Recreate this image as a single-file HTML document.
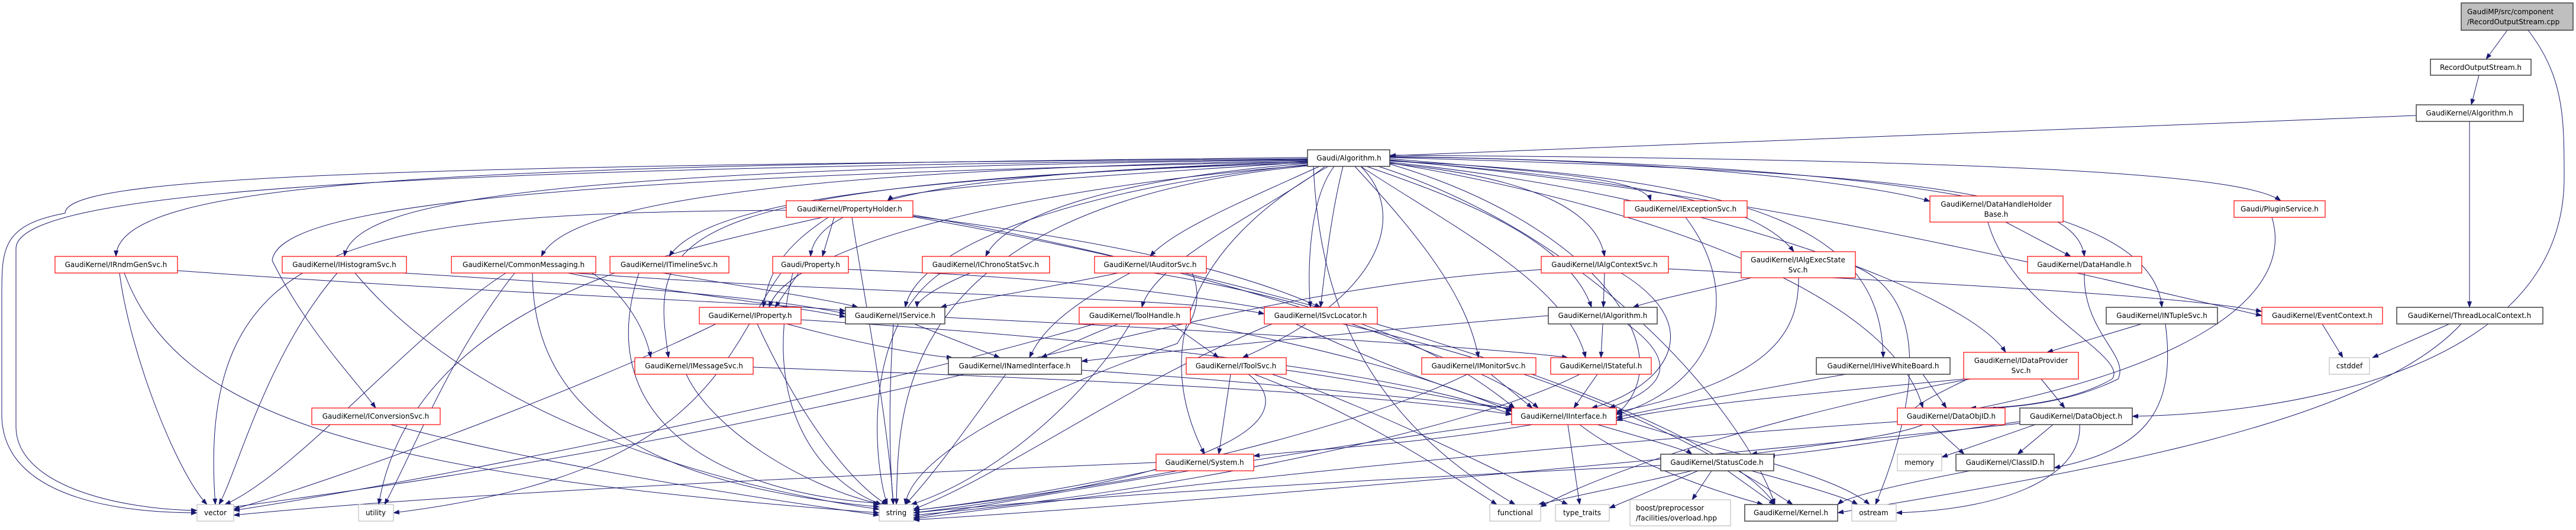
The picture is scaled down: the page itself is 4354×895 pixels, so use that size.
<!DOCTYPE html>
<html><head><meta charset="utf-8"><style>
html,body{margin:0;padding:0;background:#fff}
svg{display:block}
text{font-family:"DejaVu Sans","Liberation Sans",sans-serif;font-size:12px;fill:#000}
.r{fill:#fff;stroke:#ff0000;stroke-width:1.2}
.k{fill:#fff;stroke:#404040;stroke-width:1.5}
.g{fill:#fff;stroke:#bfbfbf;stroke-width:1.2}
.e path{fill:none;stroke:#191970;stroke-width:1}
</style></head><body>
<svg width="4354" height="895" viewBox="0 0 4354 895" xmlns="http://www.w3.org/2000/svg">
<defs><marker id="a" markerWidth="11" markerHeight="8" refX="10" refY="4" orient="auto" markerUnits="userSpaceOnUse"><path d="M0,0 L11,4 L0,8 z" fill="#191970"/></marker></defs>
<g class="e" marker-end="url(#a)">
<path d="M4238 51 L4202 100"/>
<path d="M4190 127 L4177 177"/>
<path d="M4273 51 C4334 130 4334 200 4334 300 C4334 650 3800 700 3604 703"/>
<path d="M4084 195 L2349 263"/>
<path d="M4174 205 L4174 519"/>
<!-- Gaudi/Algorithm left -->
<path d="M2210 266 C800 280 200 300 196 433"/>
<path d="M2210 268 C600 280 110 300 110 360 C3 380 3 420 3 500 L3 700 C3 840 200 866 333 866"/>
<path d="M2210 269 C700 285 27 320 27 420 L27 720 C27 820 200 860 333 862"/>
<path d="M2210 270 C900 285 600 340 582 433"/>
<path d="M2210 271 C1200 290 950 360 915 433"/>
<path d="M2210 272 C1600 300 1200 330 1131 433"/>
<path d="M2210 273 C1700 290 1380 320 1370 433"/>
<path d="M2210 274 C1800 300 1520 320 1500 339"/>
<path d="M2210 276 C1900 300 1700 360 1666 433"/>
<path d="M2230 281 C2100 340 1980 390 1944 433"/>
<path d="M2270 281 C2250 360 2240 450 2232 519"/>
<path d="M2255 281 C2210 340 2210 470 2215 519"/>
<path d="M2210 278 C1800 320 1550 420 1530 519"/>
<path d="M2210 279 C1700 320 1330 420 1300 519"/>
<path d="M2210 275 C1100 310 1100 400 1130 604"/>
<path d="M2210 273 C800 300 470 360 460 440 C520 560 600 640 635 689"/>
<path d="M2240 281 C2150 350 1950 440 1930 519"/>
<path d="M2300 281 C2380 360 2340 500 2100 604"/>
<path d="M2245 281 C2000 420 1950 600 2036 767"/>
<path d="M2210 280 C1500 350 1520 700 1515 852"/>
<path d="M2220 281 C2230 500 2300 700 2561 852"/>
<path d="M2290 281 C2400 400 2480 500 2499 604"/>
<path d="M2300 281 C2450 380 2650 480 2680 604"/>
<path d="M2310 281 C2450 330 2650 400 2690 519"/>
<path d="M2349 276 C2600 300 2700 360 2712 433"/>
<path d="M2349 268 C2600 290 2780 300 2790 339"/>
<path d="M2349 271 C2700 300 2960 330 3032 425"/>
<path d="M2349 265 C2900 270 3200 320 3262 340"/>
<path d="M2349 266 C3200 290 3510 320 3523 433"/>
<path d="M2349 272 C3000 300 3180 400 3183 604"/>
<path d="M2349 264 C3300 280 3640 360 3654 519"/>
<path d="M2349 270 C3000 330 3500 460 3823 533"/>
<path d="M2349 262 C3500 270 3800 300 3855 339"/>
<path d="M2349 274 C2900 330 3330 500 3390 595"/>
<path d="M2349 275 C2800 350 3200 500 3250 689"/>
<path d="M2330 281 C2700 400 2950 700 3000 852"/>
<path d="M2349 277 C2700 380 2850 600 2732 700"/>
<!-- PropertyHolder -->
<path d="M1410 367 L1390 433"/>
<path d="M1400 367 C1320 420 1300 460 1290 519"/>
<path d="M1390 367 C1160 420 700 500 640 852"/>
<path d="M1329 355 C600 360 330 400 364 852"/>
<path d="M1543 365 C1900 410 2100 460 2232 519"/>
<path d="M1543 363 C2000 440 2500 600 2600 689"/>
<path d="M1543 366 C2200 480 2900 700 3000 852"/>
<path d="M1440 367 C1460 500 1500 700 1510 852"/>
<!-- level 5 -->
<path d="M300 457 C900 500 1300 510 1429 525"/>
<path d="M202 461 C220 600 300 800 350 852"/>
<path d="M210 461 C300 700 600 800 1486 866"/>
<path d="M570 461 C450 600 400 800 370 852"/>
<path d="M600 461 C800 700 1200 820 1486 860"/>
<path d="M680 461 C1000 480 1300 500 1429 530"/>
<path d="M855 461 C700 560 500 800 380 852"/>
<path d="M900 461 C900 700 1100 820 1486 856"/>
<path d="M960 461 C1100 490 1300 510 1429 535"/>
<path d="M1000 461 C1050 490 1090 550 1100 604"/>
<path d="M970 461 C1500 500 2000 500 2137 530"/>
<path d="M870 461 C760 600 700 760 650 852"/>
<path d="M1120 461 C1300 490 1420 510 1450 519"/>
<path d="M1080 461 C1000 700 1200 830 1486 850"/>
<path d="M1350 461 L1310 519"/>
<path d="M1320 461 C1220 600 1200 800 665 866"/>
<path d="M1340 461 C1280 700 1400 820 1490 852"/>
<path d="M1434 455 C1800 470 2500 500 3030 852"/>
<path d="M1640 461 C1570 490 1550 510 1550 519"/>
<path d="M1590 461 C1450 560 1480 800 1500 852"/>
<path d="M1890 461 C1750 490 1620 510 1590 519"/>
<path d="M1910 461 C1800 520 1760 560 1740 604"/>
<path d="M2015 461 C2040 520 2000 560 1990 580 C1700 680 1540 780 1530 852"/>
<path d="M1950 461 C2300 520 2450 600 2560 689"/>
<path d="M2712 461 L2710 519"/>
<path d="M2740 461 C2900 560 2800 660 2690 689"/>
<path d="M2820 454 C3300 480 3700 500 3823 526"/>
<path d="M2610 455 C2000 490 1600 700 380 858"/>
<path d="M2960 469 C2880 490 2800 505 2760 519"/>
<path d="M3040 469 C3040 560 3000 640 2732 696"/>
<path d="M3136 450 C3300 520 3200 780 3170 852"/>
<path d="M2849 367 C2950 500 2900 650 2732 700"/>
<path d="M3390 375 L3500 433"/>
<path d="M3360 375 C3400 520 3600 600 3570 640 C3500 680 3400 689 3330 689"/>
<path d="M3523 461 C3520 560 3600 600 3580 640 C3500 680 3400 690 3330 690"/>
<path d="M3840 367 C3880 500 3700 620 3330 692"/>
<!-- level 6 -->
<path d="M1210 547 C1000 650 600 800 395 860"/>
<path d="M1280 547 C1350 700 1440 820 1500 852"/>
<path d="M1330 547 C1450 580 1560 600 1610 604"/>
<path d="M1354 540 C2000 580 2400 640 2555 700"/>
<path d="M1510 547 C1500 700 1505 800 1510 852"/>
<path d="M1545 547 L1690 604"/>
<path d="M1597 536 C2100 560 2550 590 2650 604"/>
<path d="M1890 547 C1830 570 1790 590 1760 604"/>
<path d="M1980 547 L2060 604"/>
<path d="M1910 547 C1850 650 1700 800 1540 852"/>
<path d="M2012 545 C2300 600 2450 650 2555 695"/>
<path d="M1850 547 C1500 650 800 800 395 862"/>
<path d="M2190 547 C2300 600 2450 660 2560 690"/>
<path d="M2150 547 C1900 650 1700 800 1544 860"/>
<path d="M2709 547 L2706 604"/>
<path d="M2750 547 C2850 620 2800 660 2720 689"/>
<path d="M2617 533 C2300 560 2000 590 1828 610"/>
<path d="M3620 547 L3460 595"/>
<path d="M3660 547 C3680 700 3620 760 3472 790"/>
<path d="M3925 547 L3960 604"/>
<path d="M4140 547 L4010 604"/>
<path d="M4160 547 C4000 720 3500 800 3106 866"/>
<!-- level 7 -->
<path d="M1160 632 C1200 720 1350 820 1490 852"/>
<path d="M1273 620 C1800 640 2300 660 2555 700"/>
<path d="M1700 632 C1650 700 1580 800 1530 852"/>
<path d="M1828 625 C2200 650 2450 680 2560 690"/>
<path d="M2080 632 L2060 767"/>
<path d="M2110 632 C2200 700 2100 800 1544 866"/>
<path d="M2120 632 C2300 700 2450 800 2530 852"/>
<path d="M2150 632 C2300 680 2500 780 2650 852"/>
<path d="M2174 625 C2350 650 2480 680 2560 692"/>
<path d="M2480 632 C2300 720 1900 820 1544 862"/>
<path d="M2520 632 L2590 689"/>
<path d="M2670 632 C2500 720 2000 830 1544 870"/>
<path d="M2700 632 L2660 689"/>
<path d="M3120 632 C2900 670 2800 690 2732 705"/>
<path d="M3250 632 L3290 689"/>
<path d="M3320 640 C3000 670 2800 690 2732 710"/>
<path d="M3450 640 L3490 689"/>
<path d="M3330 640 C3000 700 2700 800 2604 856"/>
<path d="M3330 638 C3200 700 3180 720 3380 689"/>
<!-- level 8 -->
<path d="M660 717 C900 780 1200 830 1486 870"/>
<path d="M2590 717 C2400 750 2200 760 2119 770"/>
<path d="M2650 717 L2670 852"/>
<path d="M2670 717 C2750 780 2900 830 2980 852"/>
<path d="M2700 717 C2780 740 2850 760 2860 767"/>
<path d="M2732 706 C2900 760 3100 800 3160 852"/>
<path d="M2560 712 C2200 760 1800 830 1544 874"/>
<path d="M3250 717 C3200 740 3000 760 2960 767"/>
<path d="M3265 717 L3320 767"/>
<path d="M3207 712 C2500 760 1900 830 1544 876"/>
<path d="M3470 717 L3410 767"/>
<path d="M3440 717 L3282 772"/>
<path d="M3414 712 C3200 740 3100 760 2990 770"/>
<path d="M3515 717 C3520 800 3400 860 3205 866"/>
<path d="M3414 715 C2800 780 2000 850 1544 878"/>
<!-- level 9 -->
<path d="M1954 781 C1500 800 800 830 395 870"/>
<path d="M1990 795 C1800 830 1650 850 1544 862"/>
<path d="M2860 795 C2750 820 2650 840 2600 852"/>
<path d="M2870 795 L2720 858"/>
<path d="M2893 795 L2860 844"/>
<path d="M2920 795 L3000 852"/>
<path d="M2960 795 C3050 820 3120 840 3140 852"/>
<path d="M2807 786 C2300 810 1800 840 1544 866"/>
<path d="M3330 795 C3200 820 3120 840 3106 852"/>
</g>
<!-- nodes -->
<rect x="4160" y="5" width="189" height="46" fill="#bfbfbf" stroke="#404040" stroke-width="1.5"/>
<text x="4170" y="24">GaudiMP/src/component</text><text x="4170" y="41">/RecordOutputStream.cpp</text>
<rect class="k" x="4108" y="100" width="170" height="27"/><text x="4193" y="118" text-anchor="middle">RecordOutputStream.h</text>
<rect class="k" x="4084" y="177" width="181" height="28"/><text x="4174" y="195" text-anchor="middle">GaudiKernel/Algorithm.h</text>
<rect class="k" x="2210" y="253" width="139" height="28"/><text x="2280" y="271" text-anchor="middle">Gaudi/Algorithm.h</text>
<rect class="r" x="1329" y="339" width="214" height="28"/><text x="1436" y="357" text-anchor="middle">GaudiKernel/PropertyHolder.h</text>
<rect class="r" x="2745" y="339" width="208" height="28"/><text x="2849" y="357" text-anchor="middle">GaudiKernel/IExceptionSvc.h</text>
<rect class="r" x="3262" y="331" width="225" height="44"/><text x="3374" y="349" text-anchor="middle">GaudiKernel/DataHandleHolder</text><text x="3374" y="366" text-anchor="middle">Base.h</text>
<rect class="r" x="3776" y="339" width="154" height="28"/><text x="3853" y="357" text-anchor="middle">Gaudi/PluginService.h</text>
<rect class="r" x="2943" y="425" width="193" height="44"/><text x="3039" y="443" text-anchor="middle">GaudiKernel/IAlgExecState</text><text x="3039" y="460" text-anchor="middle">Svc.h</text>
<rect class="r" x="93" y="433" width="207" height="28"/><text x="196" y="451" text-anchor="middle">GaudiKernel/IRndmGenSvc.h</text>
<rect class="r" x="477" y="433" width="210" height="28"/><text x="582" y="451" text-anchor="middle">GaudiKernel/IHistogramSvc.h</text>
<rect class="r" x="763" y="433" width="244" height="28"/><text x="885" y="451" text-anchor="middle">GaudiKernel/CommonMessaging.h</text>
<rect class="r" x="1031" y="433" width="201" height="28"/><text x="1131" y="451" text-anchor="middle">GaudiKernel/ITimelineSvc.h</text>
<rect class="r" x="1306" y="433" width="128" height="28"/><text x="1370" y="451" text-anchor="middle">Gaudi/Property.h</text>
<rect class="r" x="1559" y="433" width="215" height="28"/><text x="1666" y="451" text-anchor="middle">GaudiKernel/IChronoStatSvc.h</text>
<rect class="r" x="1850" y="433" width="189" height="28"/><text x="1944" y="451" text-anchor="middle">GaudiKernel/IAuditorSvc.h</text>
<rect class="r" x="2605" y="433" width="215" height="28"/><text x="2712" y="451" text-anchor="middle">GaudiKernel/IAlgContextSvc.h</text>
<rect class="r" x="3427" y="433" width="193" height="28"/><text x="3523" y="451" text-anchor="middle">GaudiKernel/DataHandle.h</text>
<rect class="r" x="1182" y="519" width="172" height="28"/><text x="1268" y="537" text-anchor="middle">GaudiKernel/IProperty.h</text>
<rect class="k" x="1429" y="519" width="168" height="28"/><text x="1513" y="537" text-anchor="middle">GaudiKernel/IService.h</text>
<rect class="r" x="1824" y="519" width="188" height="28"/><text x="1918" y="537" text-anchor="middle">GaudiKernel/ToolHandle.h</text>
<rect class="r" x="2137" y="519" width="191" height="28"/><text x="2232" y="537" text-anchor="middle">GaudiKernel/ISvcLocator.h</text>
<rect class="k" x="2617" y="519" width="184" height="28"/><text x="2709" y="537" text-anchor="middle">GaudiKernel/IAlgorithm.h</text>
<rect class="k" x="3560" y="519" width="188" height="28"/><text x="3654" y="537" text-anchor="middle">GaudiKernel/INTupleSvc.h</text>
<rect class="r" x="3823" y="519" width="204" height="28"/><text x="3925" y="537" text-anchor="middle">GaudiKernel/EventContext.h</text>
<rect class="k" x="4051" y="519" width="247" height="28"/><text x="4174" y="537" text-anchor="middle">GaudiKernel/ThreadLocalContext.h</text>
<rect class="r" x="1073" y="604" width="200" height="28"/><text x="1173" y="622" text-anchor="middle">GaudiKernel/IMessageSvc.h</text>
<rect class="k" x="1603" y="604" width="225" height="28"/><text x="1715" y="622" text-anchor="middle">GaudiKernel/INamedInterface.h</text>
<rect class="r" x="2005" y="604" width="169" height="28"/><text x="2089" y="622" text-anchor="middle">GaudiKernel/IToolSvc.h</text>
<rect class="r" x="2403" y="604" width="193" height="28"/><text x="2499" y="622" text-anchor="middle">GaudiKernel/IMonitorSvc.h</text>
<rect class="r" x="2621" y="604" width="170" height="28"/><text x="2706" y="622" text-anchor="middle">GaudiKernel/IStateful.h</text>
<rect class="k" x="3070" y="604" width="226" height="28"/><text x="3183" y="622" text-anchor="middle">GaudiKernel/IHiveWhiteBoard.h</text>
<rect class="r" x="3319" y="595" width="194" height="45"/><text x="3416" y="613" text-anchor="middle">GaudiKernel/IDataProvider</text><text x="3416" y="630" text-anchor="middle">Svc.h</text>
<rect class="g" x="3937" y="604" width="68" height="28"/><text x="3971" y="622" text-anchor="middle">cstddef</text>
<rect class="r" x="527" y="689" width="217" height="28"/><text x="635" y="707" text-anchor="middle">GaudiKernel/IConversionSvc.h</text>
<rect class="r" x="2555" y="689" width="177" height="28"/><text x="2643" y="707" text-anchor="middle">GaudiKernel/IInterface.h</text>
<rect class="r" x="3207" y="689" width="182" height="28"/><text x="3298" y="707" text-anchor="middle">GaudiKernel/DataObjID.h</text>
<rect class="k" x="3414" y="689" width="190" height="28"/><text x="3509" y="707" text-anchor="middle">GaudiKernel/DataObject.h</text>
<rect class="r" x="1954" y="767" width="165" height="28"/><text x="2036" y="785" text-anchor="middle">GaudiKernel/System.h</text>
<rect class="k" x="2807" y="767" width="191" height="28"/><text x="2902" y="785" text-anchor="middle">GaudiKernel/StatusCode.h</text>
<rect class="g" x="3207" y="767" width="75" height="28"/><text x="3244" y="785" text-anchor="middle">memory</text>
<rect class="k" x="3306" y="767" width="166" height="28"/><text x="3389" y="785" text-anchor="middle">GaudiKernel/ClassID.h</text>
<rect class="g" x="333" y="852" width="62" height="28"/><text x="364" y="870" text-anchor="middle">vector</text>
<rect class="g" x="606" y="852" width="59" height="28"/><text x="635" y="870" text-anchor="middle">utility</text>
<rect class="g" x="1486" y="852" width="58" height="28"/><text x="1515" y="870" text-anchor="middle">string</text>
<rect class="g" x="2518" y="852" width="86" height="28"/><text x="2561" y="870" text-anchor="middle">functional</text>
<rect class="g" x="2629" y="852" width="91" height="28"/><text x="2674" y="870" text-anchor="middle">type_traits</text>
<rect class="g" x="2755" y="844" width="170" height="44"/><text x="2765" y="862">boost/preprocessor</text><text x="2765" y="879">/facilities/overload.hpp</text>
<rect class="k" x="2949" y="852" width="157" height="28"/><text x="3027" y="870" text-anchor="middle">GaudiKernel/Kernel.h</text>
<rect class="g" x="3130" y="852" width="75" height="28"/><text x="3167" y="870" text-anchor="middle">ostream</text>
</svg>
</body></html>
